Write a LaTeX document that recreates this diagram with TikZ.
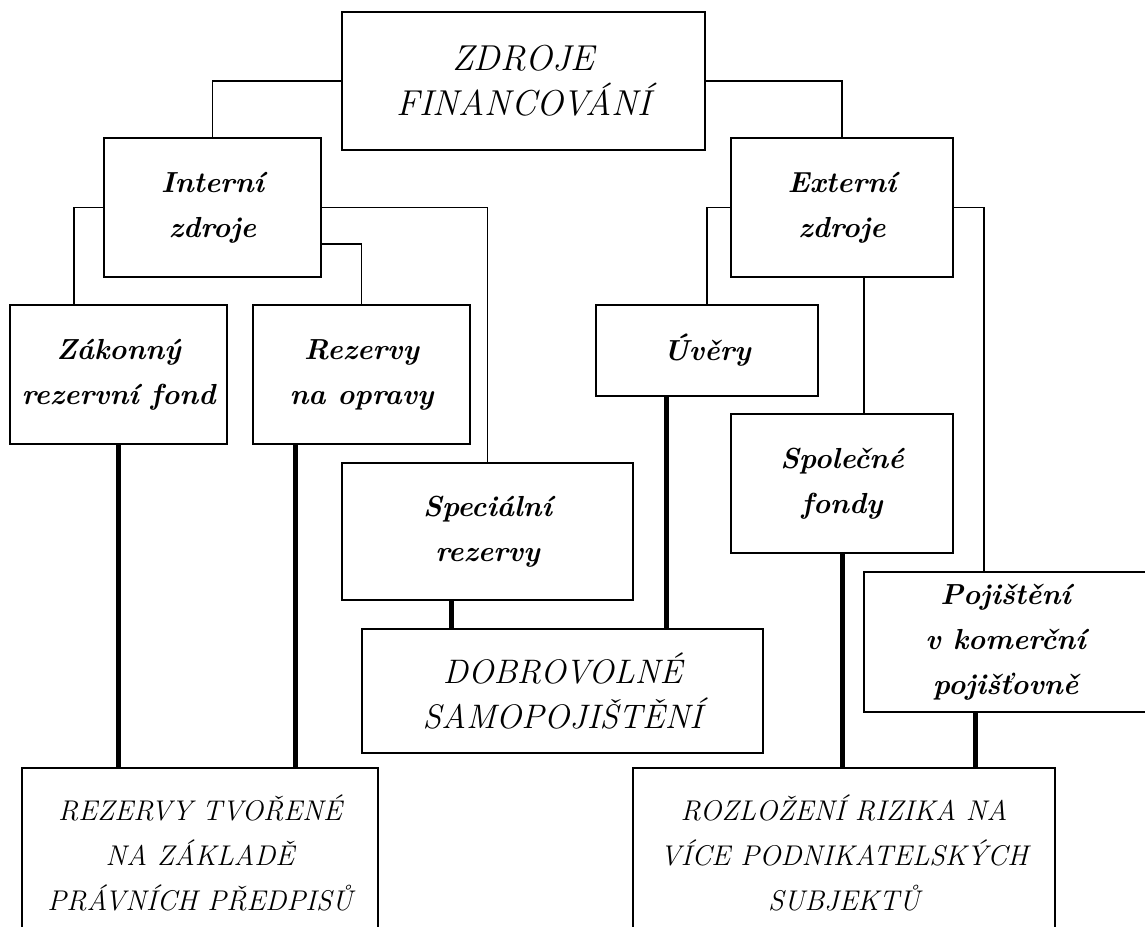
\documentclass[tikz,border=0pt]{standalone}
\usepackage{fontspec}
\begin{document}
\begin{tikzpicture}[x=1pt,y=-1pt,
  box/.style={draw, line width=1.6pt, align=center, inner sep=0pt, fill=white},
  midbox/.style={box, font=\fontsize{29}{45}\selectfont\bfseries\itshape},
  topbox/.style={box, font=\fontsize{36}{45}\selectfont\itshape},
  dobrbox/.style={box, font=\fontsize{34}{45}\selectfont\itshape},
  lowbox/.style={box, font=\fontsize{28.5}{45}\selectfont\itshape},
  thin/.style={line width=1.6pt},
  heavy/.style={line width=5pt}
]
\useasboundingbox (0,0) rectangle (1145,926);
\clip (0,0) rectangle (1145,926);

% nodes
\node[topbox, minimum width=363pt, minimum height=138pt] (top) at (523.5,81) {ZDROJE\\FINANCOVÁNÍ};
\node[midbox, minimum width=217pt, minimum height=139pt] (int) at (212.5,207.5) {Interní\\zdroje};
\node[midbox, minimum width=222pt, minimum height=139pt] (ext) at (842,207.5) {Externí\\zdroje};
\node[midbox, minimum width=217pt, minimum height=139pt] (zak) at (118.5,374.5) {Zákonný\\rezervní fond};
\node[midbox, minimum width=217pt, minimum height=139pt] (rez) at (361.5,374.5) {Rezervy\\na opravy};
\node[midbox, minimum width=291pt, minimum height=137pt] (spec) at (487.5,531.5) {Speciální\\rezervy};
\node[midbox, minimum width=222pt, minimum height=91pt] (uver) at (707,350.5) {Úvěry};
\node[midbox, minimum width=222pt, minimum height=139pt] (spol) at (842,483.5) {Společné\\fondy};
\node[midbox, minimum width=283pt, minimum height=140pt] (poj) at (1005.5,642) {Pojištění\\v komerční\\pojišťovně};
\node[dobrbox, minimum width=401pt, minimum height=124pt] (dobr) at (562.5,691) {DOBROVOLNÉ\\SAMOPOJIŠTĚNÍ};
\node[lowbox, minimum width=356pt, minimum height=170pt] (rezb) at (200,853) {REZERVY TVOŘENÉ\\NA ZÁKLADĚ\\PRÁVNÍCH PŘEDPISŮ};
\node[lowbox, minimum width=422pt, minimum height=170pt] (rozl) at (844,853) {ROZLOŽENÍ RIZIKA NA\\VÍCE PODNIKATELSKÝCH\\SUBJEKTŮ};

% thin connectors
\draw[thin] (top.west) -| (int.north);
\draw[thin] (top.east) -| (ext.north);
\draw[thin] (int.west) -| ([xshift=-44.5pt]zak.north);
\draw[thin] ([yshift=-36.5pt]int.east) -| (rez.north);
\draw[thin] (int.east) -| (spec.north);
\draw[thin] (ext.west) -| (uver.north);
\draw[thin] ([xshift=22pt]ext.south) -- ([xshift=22pt]spol.north);
\draw[thin] (ext.east) -| ([xshift=-21.5pt]poj.north);

% heavy connectors
\draw[heavy] (zak.south) -- (zak.south |- rezb.north);
\draw[heavy] ([xshift=-66.5pt]rez.south) -- ([xshift=-66.5pt]rez.south |- rezb.north);
\draw[heavy] ([xshift=-36.5pt]spec.south) -- ([xshift=-36.5pt]spec.south |- dobr.north);
\draw[heavy] ([xshift=-41pt]uver.south) -- ([xshift=-41pt]uver.south |- dobr.north);
\draw[heavy] (spol.south) -- (spol.south |- rozl.north);
\draw[heavy] ([xshift=-30.5pt]poj.south) -- ([xshift=-30.5pt]poj.south |- rozl.north);
\end{tikzpicture}
\end{document}
